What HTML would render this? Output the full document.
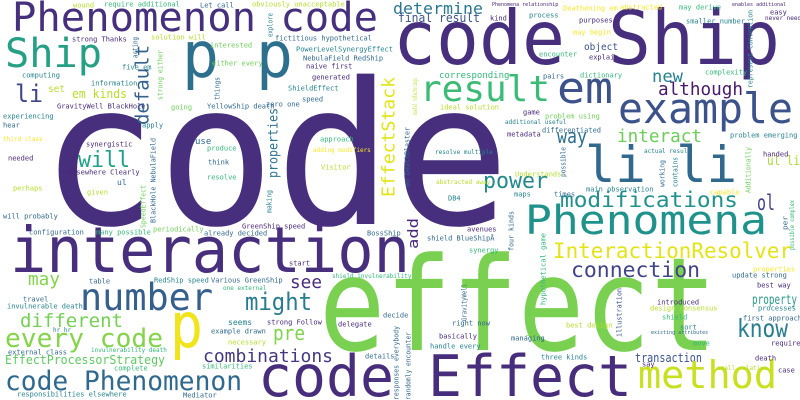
<!DOCTYPE html>
<html><head><meta charset="utf-8"><style>
html,body{margin:0;padding:0;background:#fff;}
svg{display:block;}
text{font-family:"DejaVu Sans Mono","Liberation Mono",monospace;}
</style></head>
<body>
<svg id="cloud" width="800" height="400" viewBox="0 0 800 400" xmlns="http://www.w3.org/2000/svg">
<rect width="800" height="400" fill="#ffffff"/>
</svg>
<script>
// [text, x, y(baseline for big, centre for small), fontSize, inkWidth(0=natural), colour, vertical]
const words = [
["code",40,224,198,470,"#472f7d",0],
["effect",319,350,130,398,"#7ad151",0],
["interaction",10,272,63,400,"#472f7d",0],
["code Ship",393,64,75,387,"#472f7d",0],
["Phenomenon code",12,31,40,366,"#46307e",0],
["Ship",5,67,40,97,"#25a085",0],
["p p",182,77,63,111,"#2d708e",0],
["li",15,102,24,28,"#3f4788",0],
["result",420,101,36,130,"#3bbb75",0],
["em",557,103,44,56,"#3b528b",0],
["example",618,123,42,175,"#3b528b",0],
["although",658,95,18,85,"#48186a",0],
["new",652,82,17,31,"#26828e",0],
["determine",393,14,16,90,"#2a788e",0],
["final result",398,22,12,82,"#3b528b",0],
["li li",585,182,50,152,"#31688e",0],
["way",557,143,20,30,"#2c728e",0],
["interact",617,142,18,85,"#6ccd5a",0],
["power",483,188,22,65,"#23888e",0],
["Phenomena",525,234,40,242,"#20928c",0],
["modifications",560,207,21,178,"#21918c",0],
["ol",757,210,21,18,"#424086",0],
["InteractionResolver",553,258,21,239,"#e2e418",0],
["connection",571,277,21,129,"#414487",0],
["number",80,310,37,133,"#355f8d",0],
["p",170,347,62,33,"#f0e51c",0],
["may",28,285,18,32,"#84d44b",0],
["different",20,327,19,103,"#75d054",0],
["every code",5,347,26,158,"#84d44b",0],
["EffectProcessorStrategy",5,364,12,160,"#5ec962",0],
["code Phenomenon",5,390,27,237,"#30698e",0],
["might",245,310,24,67,"#287c8e",0],
["combinations",203,362,18,130,"#453781",0],
["pre",273,340,20,32,"#7fd34e",0],
["see",290,288,18,32,"#472c7a",0],
["code Effect",258,396,57,374,"#472d7b",0],
["know",737,337,25,51,"#287d8e",0],
["property",752,304,13,45,"#2a9a87",0],
["transaction",635,362,12,67,"#3b528b",0],
["method",638,388,38,139,"#c8e020",0],
["will",78,167,22,52,"#1fa187",0],
["em kinds",72,98,12,55,"#b5de2b",0],
["set",48,92,10,17,"#b5de2b",0],
["ul li",767,165,13,33,"#a8db34",0],
["object",584,50,10,34,"#3b528b",0],
["EffectStack",388,197,18,120,"#e2e418",1],
["default",142,125,19,80,"#33638d",1],
["properties",273,178,13,70,"#2c728e",1],
["add",413,249,14,31,"#482878",1],
["BlackHole NebulaField",153,223,7,85,"#31688e",1],
["SpeedEffect",143,228,7,43,"#6ece58",1],
["strong either",160,100,7,50,"#6ece58",1],
["acting",135,58,7,21,"#31688e",1],
["explore",270,37,7,24,"#26828e",1],
["things",217,100,7,23,"#31688e",1],
["making",269,213,7,23,"#26828e",1],
["useful refactorings",415,115,6,37,"#b5de2b",1],
["em DeathBlaster",407,187,7,60,"#31688e",1],
["represent Convention",750,88,7,78,"#26828e",1],
["Additionally",748,193,7,46,"#6ece58",1],
["working",662,187,7,27,"#31688e",1],
["contains",675,187,7,30,"#26828e",1],
["possible",563,177,7,30,"#31688e",1],
["four kinds",511,251,7,40,"#31688e",1],
["hypothetical game",543,305,7,72,"#35b779",1],
["GravityWell",464,321,7,37,"#31688e",1],
["least one",529,337,7,30,"#6ece58",1],
["responses everybody",396,400,7,74,"#31688e",1],
["randomly encounter",408,400,7,68,"#31688e",1],
["illustration",619,337,7,49,"#3b528b",1],
["per",785,230,7,14,"#31688e",1],
["possible complex",792,250,6,50,"#35b779",1],
["wound",73,5,7,0,"#b5de2b",0],
["require additional",104,4,7,0,"#35b779",0],
["Let call",200,5,7,0,"#31688e",0],
["obviously unacceptable",252,4,7,0,"#b5de2b",0],
["strong Thanks",72,39,7,0,"#482878",0],
["solution will",151,37,7,0,"#b5de2b",0],
["fictitious hypothetical",275,38,7,0,"#31688e",0],
["interested",210,45,7,0,"#6ece58",0],
["PowerLevelSynergyEffect",296,49,7,0,"#26828e",0],
["NebulaField RedShip",303,58,7,0,"#31688e",0],
["either every",212,63,7,0,"#6ece58",0],
["naive first",306,66,7,0,"#482878",0],
["five em",122,67,7,0,"#26828e",0],
["computing",22,75,7,0,"#26828e",0],
["generated",312,77,7,0,"#482878",0],
["information",91,83,7,0,"#26828e",0],
["ShieldEffect",288,88,7,0,"#26828e",0],
["speed",302,99,7,0,"#31688e",0],
["GravityWell BlackHole",57,106,7,0,"#482878",0],
["going",171,107,7,0,"#6ece58",0],
["YellowShip death",207,106,7,0,"#31688e",0],
["zero one",266,104,7,0,"#31688e",0],
["ideal solution",440,107,7,0,"#b5de2b",0],
["game",523,112,7,0,"#482878",0],
["problem using",545,116,7,0,"#6ece58",0],
["experiencing",3,116,7,0,"#26828e",0],
["additional useful",505,122,6,0,"#26828e",0],
["hear",3,125,7,0,"#31688e",0],
["apply",142,125,7,0,"#26828e",0],
["differentiated",542,130,7,0,"#31688e",0],
["metadata",507,134,7,0,"#482878",0],
["problem emerging",730,135,7,0,"#26828e",0],
["third class",3,139,6,0,"#fde725",0],
["use",195,141,9,0,"#31688e",0],
["approach",320,139,7,0,"#35b779",0],
["synergistic",86,144,7,0,"#482878",0],
["produce",207,148,7,0,"#35b779",0],
["adding modifiers",313,150,6,0,"#fde725",0],
["resolve multiple",435,152,6,0,"#26828e",0],
["actual result",644,151,6,0,"#26828e",0],
["handed",763,154,7,0,"#482878",0],
["needed",8,158,7,0,"#482878",0],
["think",208,162,7,0,"#31688e",0],
["Visitor",321,167,7,0,"#b5de2b",0],
["elsewhere Clearly",68,172,7,0,"#482878",0],
["Understands",515,174,7,0,"#b5de2b",0],
["resolve",207,177,7,0,"#35b779",0],
["ul",117,182,8,0,"#31688e",0],
["abstracted away",436,182,6,0,"#b5de2b",0],
["perhaps",13,188,7,0,"#b5de2b",0],
["main observation",586,189,7,0,"#26828e",0],
["given",87,192,7,0,"#b5de2b",0],
["capable",710,192,7,0,"#fde725",0],
["times",554,194,7,0,"#31688e",0],
["maps",514,194,7,0,"#26828e",0],
["DB4",448,198,7,0,"#26828e",0],
["will probably",3,216,7,0,"#31688e",0],
["GreenShip speed",242,226,7,0,"#482878",0],
["avenues",467,229,7,0,"#482878",0],
["periodically",153,229,7,0,"#6ece58",0],
["configuration",29,232,7,0,"#31688e",0],
["many possible",96,232,7,0,"#35b779",0],
["already decided",204,233,7,0,"#31688e",0],
["BossShip",367,233,7,0,"#31688e",0],
["shield BlueShipÅ",427,238,7,0,"#31688e",0],
["synergy",469,250,7,0,"#35b779",0],
["start",289,263,7,0,"#482878",0],
["properties",753,269,7,0,"#fde725",0],
["update strong",732,275,7,0,"#31688e",0],
["shield invulnerability",332,276,6,0,"#35b779",0],
["table",89,281,7,0,"#31688e",0],
["RedShip speed",154,280,7,0,"#26828e",0],
["Various GreenShip",211,280,7,0,"#31688e",0],
["best way",757,285,7,0,"#482878",0],
["one external",223,288,6,0,"#35b779",0],
["travel",23,299,7,0,"#31688e",0],
["introduced",657,302,7,0,"#482878",0],
["invulnerable death",7,306,7,0,"#26828e",0],
["processes",758,308,7,0,"#26828e",0],
["design consensus",650,308,7,0,"#b5de2b",0],
["shield",662,317,7,0,"#35b779",0],
["first approach",743,318,7,0,"#31688e",0],
["seems",228,322,8,0,"#26828e",0],
["strong Follow",267,322,7,0,"#482878",0],
["decide",383,315,7,0,"#31688e",0],
["delegate",338,324,7,0,"#482878",0],
["hr hr",53,330,6,0,"#26828e",0],
["right now",452,323,7,0,"#31688e",0],
["best design",566,325,7,0,"#b5de2b",0],
["sort",680,327,7,0,"#26828e",0],
["example drawn",211,331,7,0,"#31688e",0],
["existing attributes",651,332,5,0,"#31688e",0],
["basically",439,336,7,0,"#482878",0],
["necessary",228,342,7,0,"#b5de2b",0],
["require",771,343,7,0,"#482878",0],
["move",693,343,7,0,"#35b779",0],
["managing",511,338,7,0,"#31688e",0],
["handle every",430,346,7,0,"#26828e",0],
["external class",8,352,7,0,"#31688e",0],
["invulnerability death",91,350,6,0,"#35b779",0],
["death",755,358,7,0,"#482878",0],
["details",365,356,7,0,"#31688e",0],
["three kinds",541,357,7,0,"#26828e",0],
["say",642,364,7,0,"#482878",0],
["similarities",202,366,7,0,"#35b779",0],
["small relative",717,368,6,0,"#b5de2b",0],
["complete",114,368,7,0,"#35b779",0],
["case",778,370,7,0,"#482878",0],
["responsibilities elsewhere",17,394,7,0,"#26828e",0],
["Mediator",183,395,7,0,"#31688e",0],
["corresponding",439,75,9,0,"#35b779",0],
["pairs",543,76,7,0,"#31688e",0],
["dictionary",580,75,7,0,"#35b779",0],
["complexity",705,72,7,0,"#35b779",0],
["encounter",539,54,7,0,"#35b779",0],
["explain",589,57,7,0,"#482878",0],
["purposes",579,20,7,0,"#482878",0],
["smaller number",686,21,7,0,"#26828e",0],
["may begin",573,32,7,0,"#fde725",0],
["process",529,15,7,0,"#26828e",0],
["kind",490,18,7,0,"#482878",0],
["Deathening em",563,8,7,0,"#fde725",0],
["abstracted",620,7,7,0,"#fde725",0],
["may derive",679,7,7,0,"#35b779",0],
["enables additional",732,4,5,0,"#482878",0],
["Phenomena relationship",492,4,5,0,"#482878",0],
["easy",770,12,7,0,"#482878",0],
["never need",765,18,6,0,"#482878",0]
];
const svg = document.getElementById('cloud');
const NS = 'http://www.w3.org/2000/svg';
for (const w of words) {
  const [txt, x, y, fs, len, col, vert] = w;
  const el = document.createElementNS(NS, 'text');
  
  
  el.setAttribute('font-size', fs);
  el.setAttribute('fill', col);
  if (len > 0) {
    el.setAttribute('textLength', len);
    el.setAttribute('lengthAdjust', 'spacingAndGlyphs');
  }
  if (vert) {
    const bx = x + fs * 0.35;
    el.setAttribute('x', 0);
    el.setAttribute('y', 0);
    el.setAttribute('transform', 'translate(' + bx + ',' + y + ') rotate(-90)');
  } else {
    const by = fs <= 13 && len === 0 ? y + fs * 0.35 : y;
    el.setAttribute('x', x);
    el.setAttribute('y', by);
  }
  el.textContent = txt;
  svg.appendChild(el);
}
</script>
</body></html>
